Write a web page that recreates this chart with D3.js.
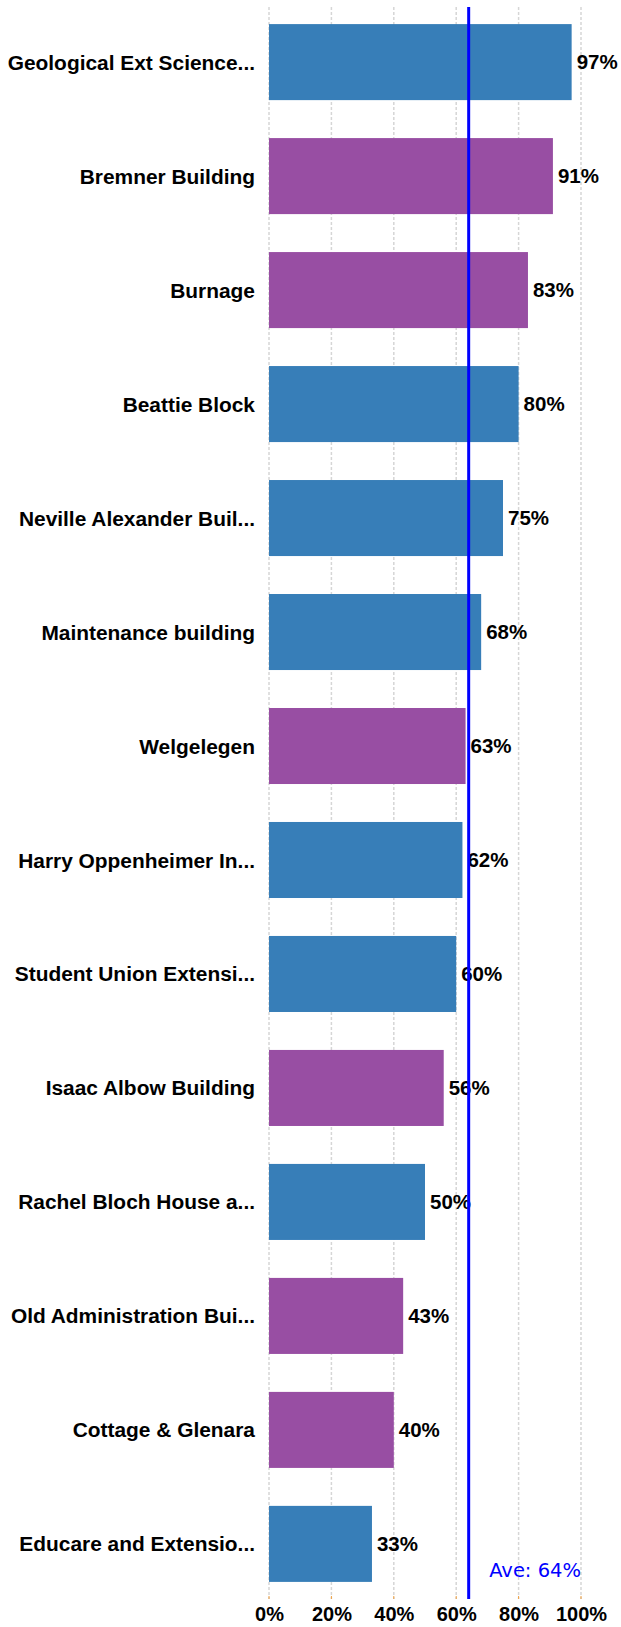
<!DOCTYPE html>
<html>
<head>
<meta charset="utf-8">
<script src="https://cdn.jsdelivr.net/npm/d3@7"></script>
<style>
  html, body { margin: 0; padding: 0; background: #fff; }
  svg { display: block; }
</style>
</head>
<body>
<svg id="chart" width="621" height="1627"></svg>
<script>
const categories = [
  "Geological Ext Science...",
  "Bremner Building",
  "Burnage",
  "Beattie Block",
  "Neville Alexander Buil...",
  "Maintenance building",
  "Welgelegen",
  "Harry Oppenheimer In...",
  "Student Union Extensi...",
  "Isaac Albow Building",
  "Rachel Bloch House a...",
  "Old Administration Bui...",
  "Cottage & Glenara",
  "Educare and Extensio..."
];
const values = [97, 91, 83, 80, 75, 68, 63, 62, 60, 56, 50, 43, 40, 33];
const groups = ["a", "b", "b", "a", "a", "a", "b", "a", "a", "b", "a", "b", "b", "a"];
const tickValues = [0, 20, 40, 60, 80, 100];
const average = 64;
const averageLabel = "Ave: 64%";

const colors = { a: "#377eb8", b: "#984ea3" };

const svg = d3.select("#chart");
const plotTop = 7, plotBottom = 1599;

const x = d3.scaleLinear().domain([0, 100]).range([269, 581]);
const y = d3.scaleBand().domain(categories).range([plotTop, plotBottom])
  .paddingInner(0.333).paddingOuter(0.15);

const boldFont = "'Liberation Sans', Arial, Helvetica, sans-serif";

// gridlines
svg.append("g").selectAll("line").data(tickValues).join("line")
  .attr("x1", d => x(d)).attr("x2", d => x(d))
  .attr("y1", plotTop).attr("y2", plotBottom)
  .attr("stroke", "#d6d6d6").attr("stroke-width", 1.5)
  .attr("stroke-dasharray", "3,2");

// small orange ticks
svg.append("g").selectAll("line").data(tickValues).join("line")
  .attr("x1", d => x(d)).attr("x2", d => x(d))
  .attr("y1", plotBottom - 3).attr("y2", plotBottom)
  .attr("stroke", "#f0a040").attr("stroke-width", 1);

// axis labels
const axis = d3.axisBottom(x).tickValues(tickValues).tickFormat(d => d + "%").tickSize(0).tickPadding(0);
const axG = svg.append("g").attr("transform", `translate(0,${plotBottom})`).call(axis);
axG.select(".domain").remove();
axG.selectAll("text")
  .attr("y", 22).attr("dy", null)
  .attr("font-family", boldFont).attr("font-weight", "bold")
  .attr("font-size", 20).attr("fill", "#000");

// bars
svg.append("g").selectAll("rect").data(categories).join("rect")
  .attr("x", x(0))
  .attr("y", d => y(d))
  .attr("width", (d, i) => x(values[i]) - x(0))
  .attr("height", y.bandwidth())
  .attr("fill", (d, i) => colors[groups[i]]);

// category labels
svg.append("g").selectAll("text").data(categories).join("text")
  .attr("x", x(0) - 14)
  .attr("y", d => y(d) + y.bandwidth() / 2)
  .attr("dy", "0.36em")
  .attr("text-anchor", "end")
  .attr("font-family", boldFont).attr("font-weight", "bold")
  .attr("font-size", 20.9).attr("fill", "#000")
  .text(d => d);

// value labels
svg.append("g").selectAll("text").data(categories).join("text")
  .attr("x", (d, i) => x(values[i]) + 5)
  .attr("y", d => y(d) + y.bandwidth() / 2)
  .attr("dy", "0.36em")
  .attr("font-family", boldFont).attr("font-weight", "bold")
  .attr("font-size", 20.5).attr("fill", "#000")
  .text((d, i) => values[i] + "%");

// average line
svg.append("line")
  .attr("x1", x(average)).attr("x2", x(average))
  .attr("y1", plotTop).attr("y2", plotBottom)
  .attr("stroke", "#0000ff").attr("stroke-width", 3);

svg.append("text")
  .attr("x", x(100)).attr("y", 1577)
  .attr("text-anchor", "end")
  .attr("font-family", "'DejaVu Sans', Verdana, sans-serif")
  .attr("font-size", 19.5).attr("fill", "#0000ff")
  .text(averageLabel);
</script>
</body>
</html>
